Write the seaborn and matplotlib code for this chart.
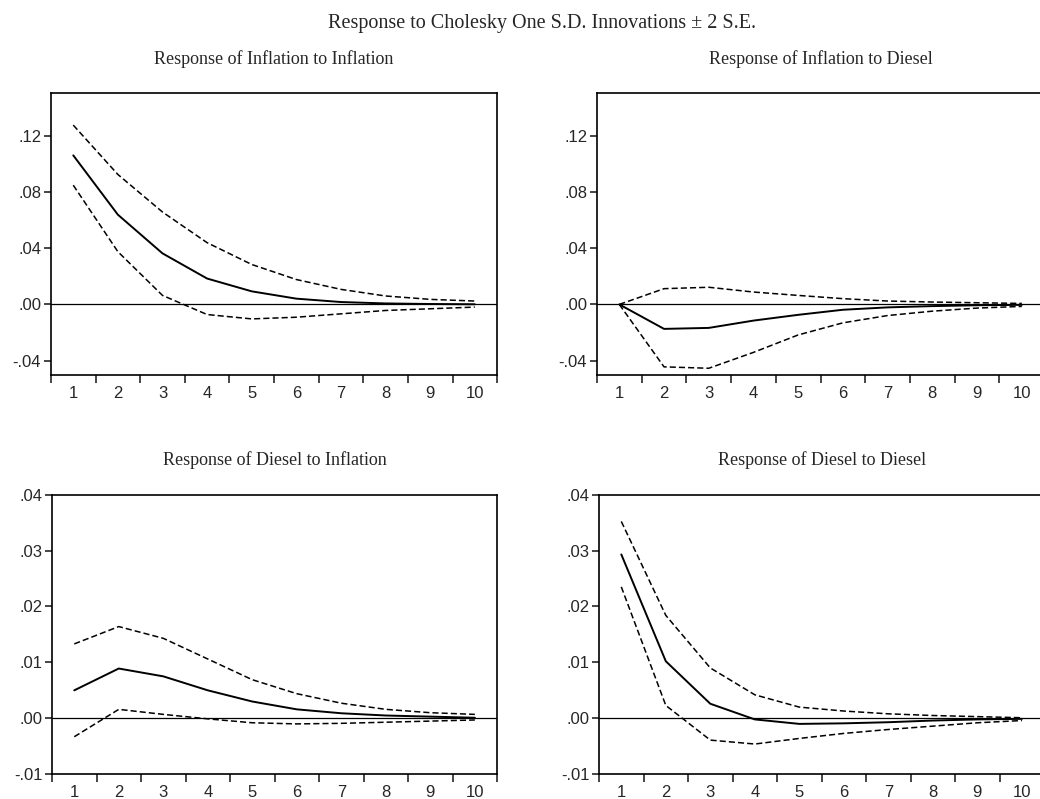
import numpy as np
import pandas as pd
import matplotlib
matplotlib.use("Agg")
import matplotlib.pyplot as plt
import seaborn as sns
from matplotlib.ticker import FuncFormatter, FixedLocator

## periods
periods = [1, 2, 3, 4, 5, 6, 7, 8, 9, 10]

## Response of Inflation to Inflation
inf_inf = [0.106, 0.0638, 0.0363, 0.0184, 0.0093, 0.0041, 0.0017, 0.0007, 0.0003, 0.0001]
inf_inf_hi = [0.1275, 0.0924, 0.0657, 0.0439, 0.0284, 0.0177, 0.0107, 0.0060, 0.0036, 0.0024]
inf_inf_lo = [0.0848, 0.0375, 0.0064, -0.0072, -0.0103, -0.0091, -0.0067, -0.0043, -0.0031, -0.0019]

## Response of Inflation to Diesel
inf_die = [0.0, -0.0174, -0.0167, -0.0115, -0.0074, -0.0038, -0.0021, -0.0012, -0.0006, -0.0003]
inf_die_hi = [0.0, 0.0112, 0.0122, 0.0088, 0.0064, 0.0041, 0.0024, 0.0017, 0.0012, 0.0007]
inf_die_lo = [0.0, -0.0444, -0.0454, -0.0341, -0.0217, -0.0131, -0.0079, -0.0048, -0.0026, -0.0014]

## Response of Diesel to Inflation
die_inf = [0.0050, 0.0089, 0.0075, 0.0050, 0.0030, 0.0016, 0.0009, 0.0005, 0.0003, 0.0001]
die_inf_hi = [0.0133, 0.0164, 0.0143, 0.0106, 0.0069, 0.0044, 0.0027, 0.0016, 0.0010, 0.0007]
die_inf_lo = [-0.0033, 0.0016, 0.0007, -0.0001, -0.0008, -0.0010, -0.0009, -0.0007, -0.0005, -0.0003]

## Response of Diesel to Diesel
die_die = [0.0293, 0.0102, 0.0026, -0.0002, -0.0010, -0.0009, -0.0007, -0.0004, -0.0002, -0.0001]
die_die_hi = [0.0352, 0.0184, 0.0090, 0.0042, 0.0020, 0.0013, 0.0008, 0.0005, 0.0003, 0.0001]
die_die_lo = [0.0235, 0.0023, -0.0039, -0.0046, -0.0036, -0.0027, -0.0020, -0.0014, -0.0008, -0.0004]

titles = ["Response of Inflation to Inflation", "Response of Inflation to Diesel",
          "Response of Diesel to Inflation", "Response of Diesel to Diesel"]
yticks_top = [-0.04, 0.0, 0.04, 0.08, 0.12]
yticks_bottom = [-0.01, 0.0, 0.01, 0.02, 0.03, 0.04]

sns.set_style("white")
plt.rcParams['font.family'] = ['Liberation Sans', 'DejaVu Sans']

fig = plt.figure(figsize=(10.4, 7.99), dpi=100)

## axes boxes in figure fractions (left, bottom, width, height)
boxes = [[0.049, 0.531, 0.429, 0.352],
         [0.574, 0.531, 0.430, 0.352],
         [0.050, 0.031, 0.428, 0.350],
         [0.576, 0.031, 0.428, 0.350]]

panels = [(inf_inf, inf_inf_hi, inf_inf_lo, (-0.05, 0.15), yticks_top),
          (inf_die, inf_die_hi, inf_die_lo, (-0.05, 0.15), yticks_top),
          (die_inf, die_inf_hi, die_inf_lo, (-0.01, 0.04), yticks_bottom),
          (die_die, die_die_hi, die_die_lo, (-0.01, 0.04), yticks_bottom)]


def dot_fmt(v, pos):
    s = f"{v:.2f}"
    return s.replace("0.", ".", 1)


for box, title, (resp, hi, lo, ylim, yticks) in zip(boxes, titles, panels):
    ax = fig.add_axes(box)
    df = pd.DataFrame({'period': periods, 'resp': resp, 'hi': hi, 'lo': lo})
    ax.axhline(0, color='black', lw=0.9, zorder=1)
    sns.lineplot(data=df, x='period', y='hi', ax=ax, color='black', lw=1.1, dashes=False,
                 linestyle=(0, (4, 2)))
    sns.lineplot(data=df, x='period', y='lo', ax=ax, color='black', lw=1.1, dashes=False,
                 linestyle=(0, (4, 2)))
    sns.lineplot(data=df, x='period', y='resp', ax=ax, color='black', lw=1.4)

    ax.set_xlim(0.5, 10.5)
    ax.set_ylim(*ylim)
    ax.set_xlabel('')
    ax.set_ylabel('')
    ## labels on integers, tick marks between them
    ax.xaxis.set_major_locator(FixedLocator(periods))
    ax.xaxis.set_minor_locator(FixedLocator(np.arange(0.5, 11, 1.0)))
    ax.tick_params(axis='x', which='major', length=0, labelsize=12, pad=8)
    ax.tick_params(axis='x', which='minor', length=6, width=1.2, direction='out', bottom=True)
    ax.yaxis.set_major_locator(FixedLocator(yticks))
    ax.yaxis.set_major_formatter(FuncFormatter(dot_fmt))
    ax.tick_params(axis='y', length=5, width=1.2, direction='out', left=True, labelsize=12, pad=2)
    for sp in ax.spines.values():
        sp.set_color('black')
        sp.set_linewidth(1.2)
    ax.set_title(title, family='Liberation Serif', fontsize=13, pad=21)

fig.suptitle("Response to Cholesky One S.D. Innovations \u00b1 2 S.E.",
             family='Liberation Serif', fontsize=14.5, x=0.521, y=0.982)

fig.savefig('out.png', dpi=100)
